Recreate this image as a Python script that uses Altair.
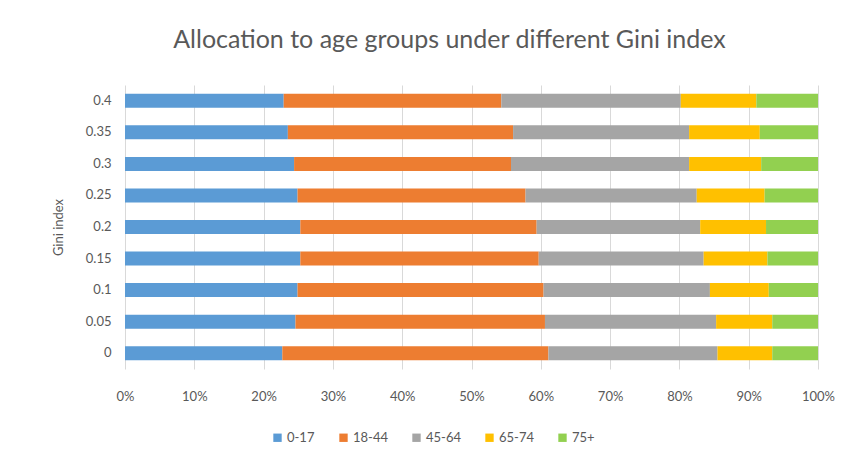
import altair as alt
import pandas as pd

gini = ["0.4", "0.35", "0.3", "0.25", "0.2", "0.15", "0.1", "0.05", "0"]
groups = ["0-17", "18-44", "45-64", "65-74", "75+"]
colors = ["#5B9BD5", "#ED7D31", "#A5A5A5", "#FFC000", "#92D050"]
x_ticks = [0.0, 0.1, 0.2, 0.3, 0.4, 0.5, 0.6, 0.7, 0.8, 0.9, 1.0]

# shares (%) per Gini index row, in order of groups
g_0_17 = [22.9, 23.5, 24.4, 24.9, 25.3, 25.3, 24.9, 24.6, 22.7]
g_18_44 = [31.4, 32.5, 31.3, 32.9, 34.1, 34.4, 35.5, 36.0, 38.4]
g_45_64 = [25.9, 25.4, 25.7, 24.7, 23.6, 23.8, 24.0, 24.7, 24.4]
g_65_74 = [10.9, 10.2, 10.4, 9.8, 9.5, 9.2, 8.5, 8.1, 7.9]
g_75p = [8.9, 8.4, 8.2, 7.7, 7.5, 7.3, 7.1, 6.6, 6.6]

series = [g_0_17, g_18_44, g_45_64, g_65_74, g_75p]
rows = []
for gi, (grp, vals) in enumerate(zip(groups, series)):
    for g, v in zip(gini, vals):
        rows.append({"gini": g, "group": grp, "value": v / 100.0, "order": gi})
df = pd.DataFrame(rows)

FONT = "Lato"
GREY = "#595959"

chart = alt.Chart(df).mark_bar(size=14).encode(
    y=alt.Y("gini:N", sort=gini,
            axis=alt.Axis(title="Gini index", titleFontWeight="normal", titleFontSize=13,
                          titleColor=GREY, titleFont=FONT, labelFont=FONT, labelFontSize=13,
                          labelColor=GREY, labelPadding=14, titlePadding=20,
                          ticks=False, domain=False, grid=False)),
    x=alt.X("value:Q", stack="normalize",
            scale=alt.Scale(domain=[0, 1], nice=False),
            axis=alt.Axis(title=None, format=".0%", values=x_ticks, labelOverlap=False,
                          labelFlush=False,
                          labelFont=FONT, labelFontSize=13, labelColor=GREY, labelPadding=21,
                          ticks=False, domain=False, grid=True, gridColor="#D9D9D9", gridWidth=1)),
    color=alt.Color("group:N", sort=groups,
                    scale=alt.Scale(domain=groups, range=colors),
                    legend=alt.Legend(title=None, orient="none", direction="horizontal",
                                      legendX=146, legendY=346, symbolType="square",
                                      symbolSize=70, symbolStrokeWidth=0,
                                      labelFont=FONT, labelFontSize=13, labelColor=GREY,
                                      columnPadding=22, labelOffset=3)),
    order=alt.Order("order:Q", sort="ascending"),
).properties(
    width=693, height=284,
    title=alt.TitleParams("Allocation to age groups under different Gini  index",
                          font=FONT, fontSize=25, fontWeight="normal", color=GREY,
                          anchor="middle", dx=-22, offset=32),
    padding={"left": 44, "top": 20, "right": 0, "bottom": 30},
).configure_view(stroke=None).configure_scale(bandPaddingInner=0.55)

chart.save("out.html", embed_options={"renderer": "svg", "actions": False})
